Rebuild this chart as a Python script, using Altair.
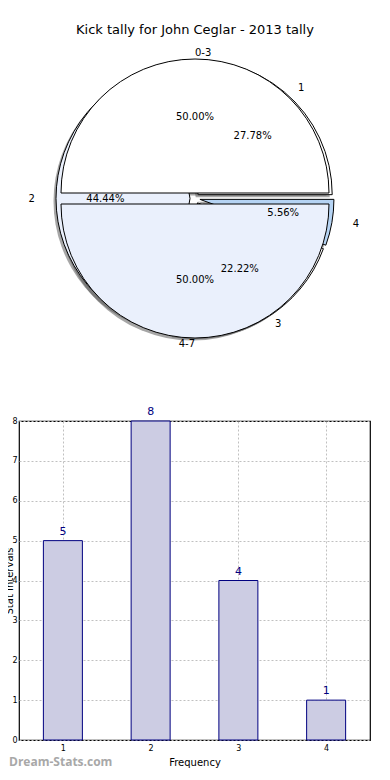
import math
import altair as alt
import pandas as pd

# ---------------- data ----------------
title_text = "Kick tally for John Ceglar - 2013 tally"

outer_labels = ["0-3", "4-7"]
outer_values = [9, 9]
inner_labels = ["1", "2", "3", "4"]
inner_values = [5, 8, 4, 1]

bar_categories = [1, 2, 3, 4]
bar_values = [5, 8, 4, 1]
y_ticks = [0, 1, 2, 3, 4, 5, 6, 7, 8]

x_title = "Frequency"
y_title = "Stat Intervals"
watermark = "Dream-Stats.com"

# ---------------- styles ----------------
outer_colors = ["#ffffff", "#eaf0fc"]
inner_colors = ["#ffffff", "#eaf0fc", "#ffffff", "#b5d3f3"]
NAVY = "#000080"
BAR_FILL = "#ccccE3"
FONT = "DejaVu Sans"

W, H = 351, 319          # bar plot area
PAD_L, PAD_T = 11, 413
CX, CY = 176.0, -222.5   # pie centre relative to plot origin
R = 134                  # pie radius
RX_T, RY_T = 141, 127    # text placement radii
E_OUT, E_IN = 5.5, 5.0   # explode distances
SH_X, SH_Y = -2.5, 2.5   # shadow offset

theta_scale = alt.Scale(domain=[0, 1], range=[math.pi / 2, math.pi / 2 - 2 * math.pi])
color_scale = alt.Scale(domain=outer_labels + inner_labels, range=outer_colors + inner_colors)

outer_df = pd.DataFrame({"label": outer_labels, "value": outer_values, "order": list(range(len(outer_labels)))})
inner_df = pd.DataFrame({"label": inner_labels, "value": inner_values, "order": list(range(len(inner_labels)))})


def pie_base(df, explode, sx=0.0, sy=0.0):
    return (
        alt.Chart(df)
        .transform_joinaggregate(total="sum(value)")
        .transform_window(cum="sum(value)", sort=[alt.SortField("order")], frame=[None, 0])
        .transform_calculate(t1="datum.cum / datum.total")
        .transform_calculate(t0="(datum.cum - datum.value) / datum.total")
        .transform_calculate(mid="PI * (datum.t0 + datum.t1)")
        .transform_calculate(px=f"{CX + sx} + {explode} * cos(datum.mid)")
        .transform_calculate(py=f"{CY + sy} - {explode} * sin(datum.mid)")
        .transform_calculate(pct="format(100 * datum.value / datum.total, '.2f') + '%'")
    )


def arcs(df, explode):
    return pie_base(df, explode).mark_arc(outerRadius=R, stroke="black", strokeWidth=1).encode(
        theta=alt.Theta("t0:Q", scale=theta_scale),
        theta2="t1:Q",
        x=alt.X("px:Q", scale=None),
        y=alt.Y("py:Q", scale=None),
        fill=alt.Fill("label:N", scale=color_scale, legend=None),
    )


def shadows(df, explode):
    return pie_base(df, explode, SH_X, SH_Y).mark_arc(
        outerRadius=R, fill="#4d4d4d", opacity=0.5, strokeWidth=0
    ).encode(
        theta=alt.Theta("t0:Q", scale=theta_scale),
        theta2="t1:Q",
        x=alt.X("px:Q", scale=None),
        y=alt.Y("py:Q", scale=None),
    )


def labels(df, explode):
    base = pie_base(df, explode).transform_calculate(
        lx=f"datum.px + 1.1 * {RX_T} * cos(datum.mid)"
    ).transform_calculate(
        ly=f"datum.py - 1.1 * {RY_T} * sin(datum.mid)"
    )
    enc = dict(x=alt.X("lx:Q", scale=None), y=alt.Y("ly:Q", scale=None), text="label:N")
    right = base.transform_filter("cos(datum.mid) > 0").mark_text(
        align="left", baseline="middle", font=FONT, fontSize=10, color="black"
    ).encode(**enc)
    left = base.transform_filter("cos(datum.mid) <= 0").mark_text(
        align="right", baseline="middle", font=FONT, fontSize=10, color="black"
    ).encode(**enc)
    return [right, left]


def pcts(df, explode):
    return pie_base(df, explode).transform_calculate(
        qx=f"datum.px + 0.6 * {RX_T} * cos(datum.mid)"
    ).transform_calculate(
        qy=f"datum.py - 0.6 * {RY_T} * sin(datum.mid)"
    ).mark_text(align="center", baseline="middle", font=FONT, fontSize=10, color="black").encode(
        x=alt.X("qx:Q", scale=None), y=alt.Y("qy:Q", scale=None), text="pct:N"
    )


# ---------------- bar chart ----------------
bars_df = pd.DataFrame({"freq": bar_categories, "count": bar_values})

x_enc = alt.X(
    "freq:Q",
    scale=alt.Scale(domain=[0.5, 4.5], nice=False, zero=False, padding=0),
    axis=alt.Axis(values=bar_categories, format="d", title=x_title, labelPadding=4, titlePadding=5,
                  labelOverlap=False),
)
y_enc = alt.Y(
    "count:Q",
    scale=alt.Scale(domain=[0, 8], nice=False, padding=0),
    axis=alt.Axis(values=y_ticks, format="d", title=y_title, labelPadding=2, labelOverlap=False,
                  titleX=-7, titleY=H / 2, titleBaseline="alphabetic", titleAlign="center", titleAngle=270),
)

bars = alt.Chart(bars_df).mark_bar(size=39, fill=BAR_FILL, stroke=NAVY, strokeWidth=1).encode(x=x_enc, y=y_enc)
bar_text = alt.Chart(bars_df).mark_text(dy=-9, baseline="middle", color=NAVY, font=FONT, fontSize=11).encode(
    x=x_enc, y=y_enc, text="count:Q"
)

title_mark = alt.Chart(pd.DataFrame({"t": [title_text]})).mark_text(
    font=FONT, fontSize=13, color="black", align="center", baseline="middle"
).encode(x=alt.value(CX), y=alt.value(-391), text="t:N")

wm_mark = alt.Chart(pd.DataFrame({"t": [watermark]})).mark_text(
    font="Open Sans", fontSize=12, fontWeight="bold", color="#a8a8a8", align="left", baseline="middle"
).encode(x=alt.value(-10), y=alt.value(341), text="t:N")

layers = [
    shadows(inner_df, E_IN),
    shadows(outer_df, E_OUT),
    arcs(inner_df, E_IN),
    arcs(outer_df, E_OUT),
    *labels(inner_df, E_IN),
    *labels(outer_df, E_OUT),
    pcts(inner_df, E_IN),
    pcts(outer_df, E_OUT),
    bars,
    bar_text,
    title_mark,
    wm_mark,
]

chart = (
    alt.layer(*layers)
    .properties(
        width=W,
        height=H,
        autosize=alt.AutoSizeParams(type="none"),
        padding={"left": PAD_L, "top": PAD_T, "right": 12, "bottom": 32},
    )
    .configure_view(stroke="black", strokeWidth=1.2)
    .configure_axis(
        grid=True,
        gridColor="#c0c0c0",
        gridDash=[2, 2],
        gridWidth=1,
        domain=False,
        ticks=False,
        labelFont=FONT,
        labelFontSize=8,
        labelColor="black",
        titleFont=FONT,
        titleFontSize=10,
        titleFontWeight="normal",
        titleColor="black",
        zindex=1,
    )
)

chart.save("out.html", embed_options={"renderer": "svg", "actions": False})
